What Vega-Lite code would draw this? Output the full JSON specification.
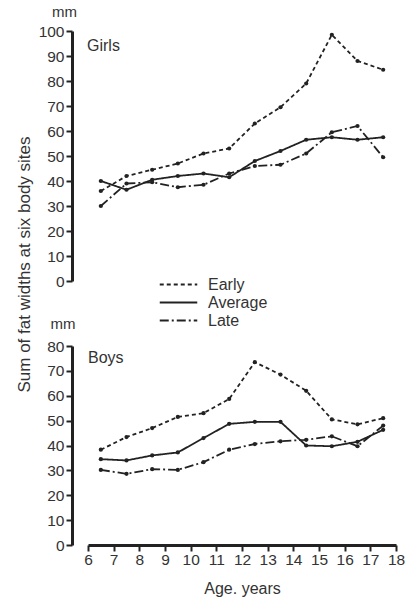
{
  "$schema": "https://vega.github.io/schema/vega-lite/v6.json",
  "background": "white",
  "padding": {"left": 14, "top": 5, "right": 2, "bottom": 2},
  "bounds": "flush",
  "config": {
    "font": "Liberation Sans",
    "view": {"stroke": null},
    "concat": {"spacing": 65},
    "axis": {"grid": false, "labelOverlap": false, "labelFlush": false, "domainColor": "#222", "domainWidth": 3, "tickColor": "#222", "tickWidth": 2, "tickSize": 6, "labelFont": "Liberation Sans", "labelFontSize": 15.5, "labelColor": "#333", "titleFont": "Liberation Sans", "titleFontSize": 15, "titleFontWeight": "normal", "titleColor": "#333"},
    "legend": {"orient": "none", "legendX": 82, "legendY": 245, "symbolType": "M-2.5,0L2.5,0", "symbolSize": 225, "symbolStrokeWidth": 2, "symbolStrokeColor": "#222", "labelFontSize": 16, "labelColor": "#333", "labelFont": "Liberation Sans", "rowPadding": 1, "labelOffset": 21},
    "title": {"font": "Liberation Sans", "fontSize": 15, "fontWeight": "normal", "color": "#333"}
  },
  "datasets": {
    "girls": [
      {"age": 6.5, "value": 36, "maturity": "Early"},
      {"age": 7.5, "value": 42, "maturity": "Early"},
      {"age": 8.5, "value": 44.5, "maturity": "Early"},
      {"age": 9.5, "value": 47, "maturity": "Early"},
      {"age": 10.5, "value": 51, "maturity": "Early"},
      {"age": 11.5, "value": 53, "maturity": "Early"},
      {"age": 12.5, "value": 63, "maturity": "Early"},
      {"age": 13.5, "value": 69.5, "maturity": "Early"},
      {"age": 14.5, "value": 79, "maturity": "Early"},
      {"age": 15.5, "value": 98.5, "maturity": "Early"},
      {"age": 16.5, "value": 88, "maturity": "Early"},
      {"age": 17.5, "value": 84.5, "maturity": "Early"},
      {"age": 6.5, "value": 40, "maturity": "Average"},
      {"age": 7.5, "value": 36.5, "maturity": "Average"},
      {"age": 8.5, "value": 40.5, "maturity": "Average"},
      {"age": 9.5, "value": 42, "maturity": "Average"},
      {"age": 10.5, "value": 43, "maturity": "Average"},
      {"age": 11.5, "value": 41.5, "maturity": "Average"},
      {"age": 12.5, "value": 48, "maturity": "Average"},
      {"age": 13.5, "value": 52, "maturity": "Average"},
      {"age": 14.5, "value": 56.5, "maturity": "Average"},
      {"age": 15.5, "value": 57.5, "maturity": "Average"},
      {"age": 16.5, "value": 56.5, "maturity": "Average"},
      {"age": 17.5, "value": 57.5, "maturity": "Average"},
      {"age": 6.5, "value": 30, "maturity": "Late"},
      {"age": 7.5, "value": 39, "maturity": "Late"},
      {"age": 8.5, "value": 39.5, "maturity": "Late"},
      {"age": 9.5, "value": 37.5, "maturity": "Late"},
      {"age": 10.5, "value": 38.5, "maturity": "Late"},
      {"age": 11.5, "value": 43, "maturity": "Late"},
      {"age": 12.5, "value": 46, "maturity": "Late"},
      {"age": 13.5, "value": 46.5, "maturity": "Late"},
      {"age": 14.5, "value": 51, "maturity": "Late"},
      {"age": 15.5, "value": 59.5, "maturity": "Late"},
      {"age": 16.5, "value": 62, "maturity": "Late"},
      {"age": 17.5, "value": 49.5, "maturity": "Late"}
    ],
    "boys": [
      {"age": 6.5, "value": 38.3, "maturity": "Early"},
      {"age": 7.5, "value": 43.4, "maturity": "Early"},
      {"age": 8.5, "value": 47, "maturity": "Early"},
      {"age": 9.5, "value": 51.5, "maturity": "Early"},
      {"age": 10.5, "value": 53, "maturity": "Early"},
      {"age": 11.5, "value": 58.7, "maturity": "Early"},
      {"age": 12.5, "value": 73.5, "maturity": "Early"},
      {"age": 13.5, "value": 68.5, "maturity": "Early"},
      {"age": 14.5, "value": 62, "maturity": "Early"},
      {"age": 15.5, "value": 50.5, "maturity": "Early"},
      {"age": 16.5, "value": 48.5, "maturity": "Early"},
      {"age": 17.5, "value": 51, "maturity": "Early"},
      {"age": 6.5, "value": 34.5, "maturity": "Average"},
      {"age": 7.5, "value": 34, "maturity": "Average"},
      {"age": 8.5, "value": 36, "maturity": "Average"},
      {"age": 9.5, "value": 37.2, "maturity": "Average"},
      {"age": 10.5, "value": 43, "maturity": "Average"},
      {"age": 11.5, "value": 48.7, "maturity": "Average"},
      {"age": 12.5, "value": 49.5, "maturity": "Average"},
      {"age": 13.5, "value": 49.5, "maturity": "Average"},
      {"age": 14.5, "value": 40, "maturity": "Average"},
      {"age": 15.5, "value": 39.7, "maturity": "Average"},
      {"age": 16.5, "value": 41.5, "maturity": "Average"},
      {"age": 17.5, "value": 46.3, "maturity": "Average"},
      {"age": 6.5, "value": 30.2, "maturity": "Late"},
      {"age": 7.5, "value": 28.6, "maturity": "Late"},
      {"age": 8.5, "value": 30.5, "maturity": "Late"},
      {"age": 9.5, "value": 30.2, "maturity": "Late"},
      {"age": 10.5, "value": 33.3, "maturity": "Late"},
      {"age": 11.5, "value": 38.3, "maturity": "Late"},
      {"age": 12.5, "value": 40.6, "maturity": "Late"},
      {"age": 13.5, "value": 41.7, "maturity": "Late"},
      {"age": 14.5, "value": 42.3, "maturity": "Late"},
      {"age": 15.5, "value": 43.7, "maturity": "Late"},
      {"age": 16.5, "value": 39.7, "maturity": "Late"},
      {"age": 17.5, "value": 48, "maturity": "Late"}
    ]
  },
  "vconcat": [
    {
      "width": 308,
      "height": 250,
      "title": {"text": "mm", "anchor": "start", "frame": "group", "dx": -36, "offset": 4},
      "encoding": {
        "x": {"field": "age", "type": "quantitative", "scale": {"domain": [6, 18]}, "axis": null},
        "y": {"field": "value", "type": "quantitative", "scale": {"domain": [0, 100]}, "axis": {"offset": 16, "values": [0, 10, 20, 30, 40, 50, 60, 70, 80, 90, 100], "title": "Sum of fat widths at six body sites", "titleFontSize": 17, "titleAngle": 270, "titleAlign": "center", "titleBaseline": "middle", "titleX": -48, "titleY": 233}}
      },
      "layer": [
        {
          "data": {"name": "girls"},
          "mark": {"type": "line", "color": "#222", "strokeWidth": 1.8},
          "encoding": {
            "strokeDash": {"field": "maturity", "type": "nominal", "scale": {"domain": ["Early", "Average", "Late"], "range": [[4, 3], [1, 0], [9, 3, 2, 3]]}, "legend": {"title": null}}
          }
        },
        {
          "data": {"name": "girls"},
          "mark": {"type": "point", "filled": true, "color": "#222", "size": 18, "opacity": 1},
          "encoding": {"detail": {"field": "maturity"}}
        },
        {
          "data": {"values": [{"age": 6, "value": 94, "label": "Girls"}]},
          "mark": {"type": "text", "align": "left", "baseline": "middle", "fontSize": 16, "color": "#333", "dx": -1},
          "encoding": {"text": {"field": "label"}}
        }
      ]
    },
    {
      "width": 308,
      "height": 199,
      "encoding": {
        "x": {"field": "age", "type": "quantitative", "scale": {"domain": [6, 18]}, "axis": {"values": [6, 7, 8, 9, 10, 11, 12, 13, 14, 15, 16, 17, 18], "title": "Age. years", "titleFontSize": 16, "titlePadding": 13, "labelPadding": 1}},
        "y": {"field": "value", "type": "quantitative", "scale": {"domain": [0, 80]}, "axis": {"offset": 16, "values": [0, 10, 20, 30, 40, 50, 60, 70, 80], "title": "mm", "titleAngle": 0, "titleAlign": "right", "titleBaseline": "alphabetic", "titleX": 3, "titleY": -18}}
      },
      "layer": [
        {
          "data": {"name": "boys"},
          "mark": {"type": "line", "color": "#222", "strokeWidth": 1.8},
          "encoding": {
            "strokeDash": {"field": "maturity", "type": "nominal", "scale": {"domain": ["Early", "Average", "Late"], "range": [[4, 3], [1, 0], [9, 3, 2, 3]]}, "legend": {"title": null}}
          }
        },
        {
          "data": {"name": "boys"},
          "mark": {"type": "point", "filled": true, "color": "#222", "size": 18, "opacity": 1},
          "encoding": {"detail": {"field": "maturity"}}
        },
        {
          "data": {"values": [{"age": 6, "value": 75, "label": "Boys"}]},
          "mark": {"type": "text", "align": "left", "baseline": "middle", "fontSize": 16, "color": "#333", "dx": 0},
          "encoding": {"text": {"field": "label"}}
        }
      ]
    }
  ]
}
